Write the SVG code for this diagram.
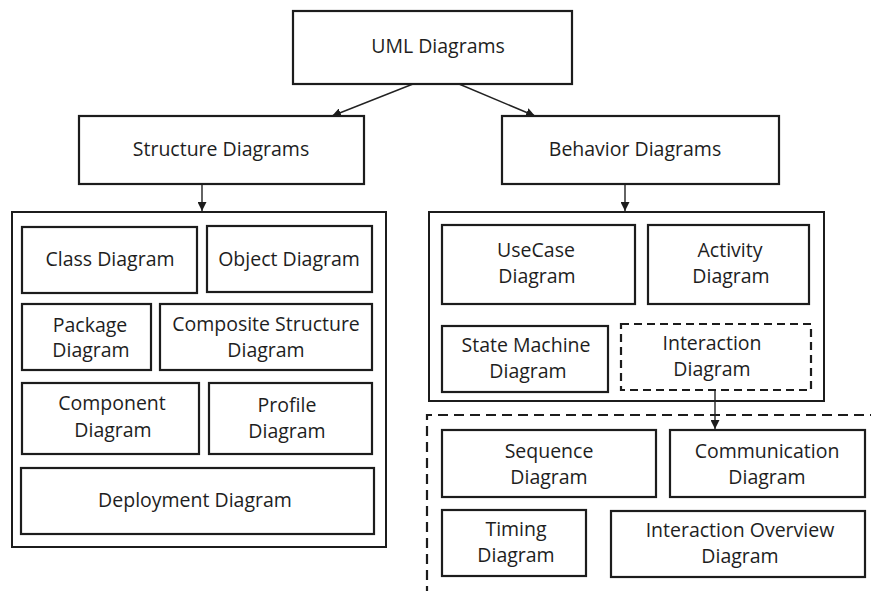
<svg xmlns="http://www.w3.org/2000/svg" width="871" height="591" viewBox="0 0 871 591">
<style>
.b{fill:#fff;stroke:#1c1c1c;stroke-width:2.2}
.c{fill:none;stroke:#1c1c1c;stroke-width:2}
.d{fill:none;stroke:#1c1c1c;stroke-width:2.2;stroke-dasharray:8 5}
.dc{fill:none;stroke:#1c1c1c;stroke-width:2.2;stroke-dasharray:10 6}
.t{font-family:"Open Sans","Noto Sans",sans-serif;font-size:19.5px;fill:#1e1e1e;text-anchor:middle}
.l{fill:none;stroke:#222;stroke-width:1.4}
</style>
<defs>
<marker id="ah" viewBox="0 0 10 10" refX="10" refY="5" markerWidth="9" markerHeight="9" markerUnits="userSpaceOnUse" orient="auto">
<path d="M0,0 L10,5 L0,10 z" fill="#1c1c1c"/>
</marker>
</defs>
<rect width="871" height="591" fill="#fff"/>

<g id="containers">
<rect class="c" x="12" y="212" width="374" height="335"/>
<rect class="c" x="429" y="212" width="395" height="189"/>
<path class="dc" d="M880 415 H427 V595"/>
</g>

<g id="connectors">
<line class="l" x1="413" y1="84" x2="332" y2="116" marker-end="url(#ah)"/>
<line class="l" x1="459" y1="84" x2="535" y2="116" marker-end="url(#ah)"/>
<line class="l" x1="202" y1="184" x2="202" y2="211" marker-end="url(#ah)"/>
<line class="l" x1="625" y1="184" x2="625" y2="211" marker-end="url(#ah)"/>
<line class="l" x1="715" y1="390" x2="715" y2="429" marker-end="url(#ah)"/>
</g>

<g id="uml"><rect class="b" x="293" y="11" width="279" height="73"/><text class="t" x="438" y="53">UML Diagrams</text></g>
<g id="structure"><rect class="b" x="79" y="116" width="285" height="68"/><text class="t" x="221" y="156">Structure Diagrams</text></g>
<g id="behavior"><rect class="b" x="502" y="116" width="277" height="68"/><text class="t" x="635" y="156">Behavior Diagrams</text></g>

<g id="class"><rect class="b" x="22" y="227" width="175" height="66"/><text class="t" x="110" y="266">Class Diagram</text></g>
<g id="object"><rect class="b" x="207" y="226" width="165" height="66"/><text class="t" x="289" y="266">Object Diagram</text></g>
<g id="package"><rect class="b" x="22" y="304" width="129" height="66"/><text class="t" x="90" y="332">Package</text><text class="t" x="91" y="357">Diagram</text></g>
<g id="composite"><rect class="b" x="160" y="304" width="212" height="66"/><text class="t" x="266" y="331">Composite Structure</text><text class="t" x="266" y="357">Diagram</text></g>
<g id="component"><rect class="b" x="22" y="383" width="177" height="71"/><text class="t" x="112" y="410">Component</text><text class="t" x="113" y="437">Diagram</text></g>
<g id="profile"><rect class="b" x="209" y="383" width="163" height="71"/><text class="t" x="287" y="412">Profile</text><text class="t" x="287" y="438">Diagram</text></g>
<g id="deployment"><rect class="b" x="21" y="468" width="353" height="66"/><text class="t" x="195" y="507">Deployment Diagram</text></g>

<g id="usecase"><rect class="b" x="442" y="225" width="193" height="79"/><text class="t" x="536" y="257">UseCase</text><text class="t" x="537" y="283">Diagram</text></g>
<g id="activity"><rect class="b" x="648" y="225" width="161" height="79"/><text class="t" x="730" y="257">Activity</text><text class="t" x="731" y="283">Diagram</text></g>
<g id="statemachine"><rect class="b" x="442" y="326" width="166" height="66"/><text class="t" x="526" y="352">State Machine</text><text class="t" x="528" y="378">Diagram</text></g>
<g id="interaction"><rect class="d" x="621" y="324" width="190" height="66"/><text class="t" x="712" y="350">Interaction</text><text class="t" x="712" y="376">Diagram</text></g>

<g id="sequence"><rect class="b" x="442" y="430" width="214" height="67"/><text class="t" x="549" y="458">Sequence</text><text class="t" x="549" y="484">Diagram</text></g>
<g id="communication"><rect class="b" x="670" y="430" width="195" height="67"/><text class="t" x="767" y="458">Communication</text><text class="t" x="767" y="484">Diagram</text></g>
<g id="timing"><rect class="b" x="442" y="510" width="144" height="66"/><text class="t" x="516" y="536">Timing</text><text class="t" x="516" y="562">Diagram</text></g>
<g id="overview"><rect class="b" x="611" y="511" width="254" height="66"/><text class="t" x="740" y="537">Interaction Overview</text><text class="t" x="740" y="563">Diagram</text></g>
</svg>
